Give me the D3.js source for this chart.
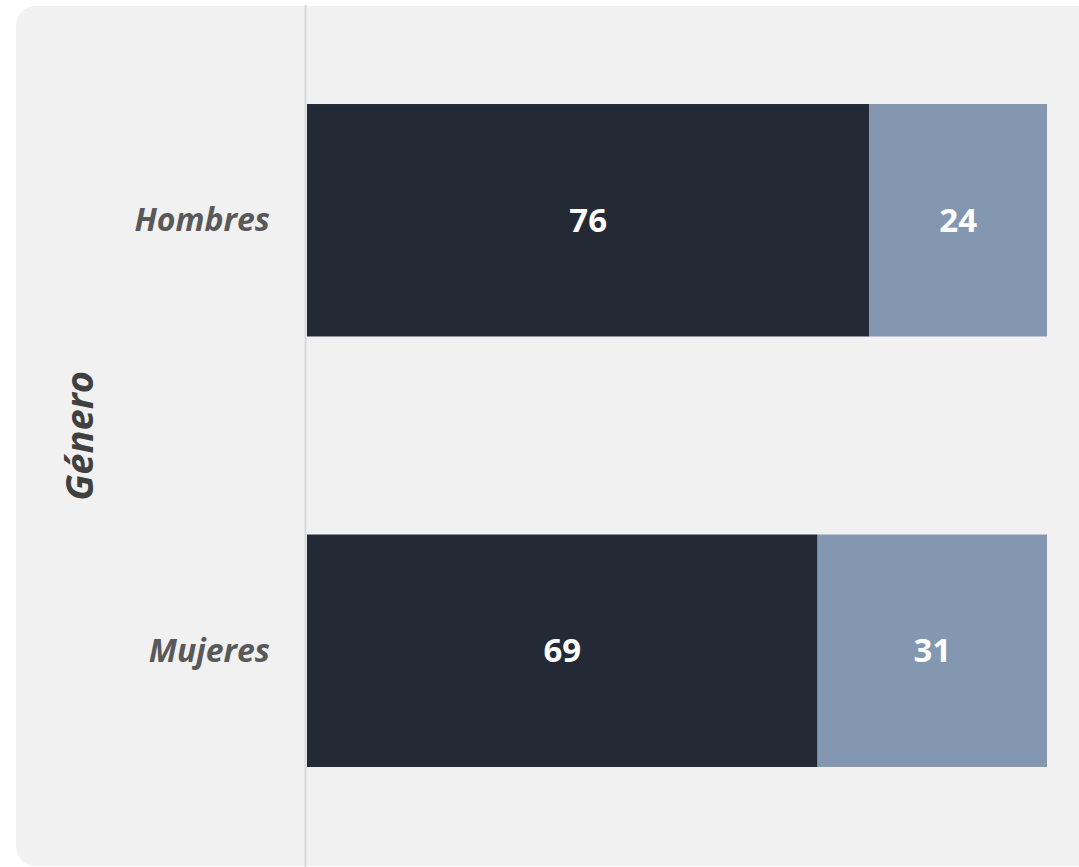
<!DOCTYPE html>
<html>
<head>
<meta charset="utf-8">
<script src="https://cdn.jsdelivr.net/npm/d3@7"></script>
<style>
  body { margin: 0; background: #ffffff; }
  text { font-family: "Open Sans", "DejaVu Sans", sans-serif; }
</style>
</head>
<body>
<div id="chart"></div>
<script>
// Chart data
var categories = ['Hombres', 'Mujeres'];
var seriesDark = [76, 69];
var seriesLight = [24, 31];
var axisTitle = 'Género';

var W = 1079, H = 867;

var svg = d3.select('#chart').append('svg')
    .attr('width', W)
    .attr('height', H);

// background panel
svg.append('rect')
    .attr('x', 16).attr('y', 6)
    .attr('width', 1080).attr('height', 860)
    .attr('rx', 20).attr('ry', 20)
    .style('fill', '#f1f1f1');

// scales
var x = d3.scaleLinear().domain([0, 100]).range([307, 1047]);
var y = d3.scaleBand().domain(categories).range([5, 866])
    .paddingInner(0.46).paddingOuter(0.23);

// axis line
svg.append('line')
    .attr('x1', 305.5).attr('x2', 305.5)
    .attr('y1', 5).attr('y2', 867)
    .style('stroke', '#d9d9d9')
    .style('stroke-width', 2);

var rows = categories.map(function(c, i) {
    return {cat: c, dark: seriesDark[i], light: seriesLight[i]};
});

// dark segment
svg.selectAll('.bar-dark')
    .data(rows).enter().append('rect')
    .attr('class', 'bar-dark')
    .attr('x', x(0))
    .attr('y', function(d) { return y(d.cat); })
    .attr('width', function(d) { return x(d.dark) - x(0); })
    .attr('height', y.bandwidth())
    .style('fill', '#232a36');

// light segment
svg.selectAll('.bar-light')
    .data(rows).enter().append('rect')
    .attr('class', 'bar-light')
    .attr('x', function(d) { return x(d.dark); })
    .attr('y', function(d) { return y(d.cat); })
    .attr('width', function(d) { return x(d.dark + d.light) - x(d.dark); })
    .attr('height', y.bandwidth())
    .style('fill', '#8497b0');

// value labels
svg.selectAll('.lbl-dark')
    .data(rows).enter().append('text')
    .attr('x', function(d) { return (x(0) + x(d.dark)) / 2; })
    .attr('y', function(d) { return y(d.cat) + y.bandwidth() / 2; })
    .attr('dy', '0.35em')
    .attr('text-anchor', 'middle')
    .style('fill', '#ffffff')
    .style('font-size', '33px')
    .style('font-weight', 'bold')
    .text(function(d) { return d.dark; });

svg.selectAll('.lbl-light')
    .data(rows).enter().append('text')
    .attr('x', function(d) { return (x(d.dark) + x(d.dark + d.light)) / 2; })
    .attr('y', function(d) { return y(d.cat) + y.bandwidth() / 2; })
    .attr('dy', '0.35em')
    .attr('text-anchor', 'middle')
    .style('fill', '#ffffff')
    .style('font-size', '33px')
    .style('font-weight', 'bold')
    .text(function(d) { return d.light; });

// category labels
svg.selectAll('.cat')
    .data(categories).enter().append('text')
    .attr('x', 270)
    .attr('y', function(d) { return y(d) + y.bandwidth() / 2; })
    .attr('dy', '0.35em')
    .attr('text-anchor', 'end')
    .style('fill', '#595959')
    .style('font-size', '32px')
    .style('font-weight', 'bold')
    .style('font-style', 'italic')
    .text(function(d) { return d; });

// axis title
svg.append('text')
    .attr('transform', 'translate(93,436) rotate(-90)')
    .attr('text-anchor', 'middle')
    .style('fill', '#404040')
    .style('font-size', '38px')
    .style('font-weight', 'bold')
    .style('font-style', 'italic')
    .text(axisTitle);
</script>
</body>
</html>
